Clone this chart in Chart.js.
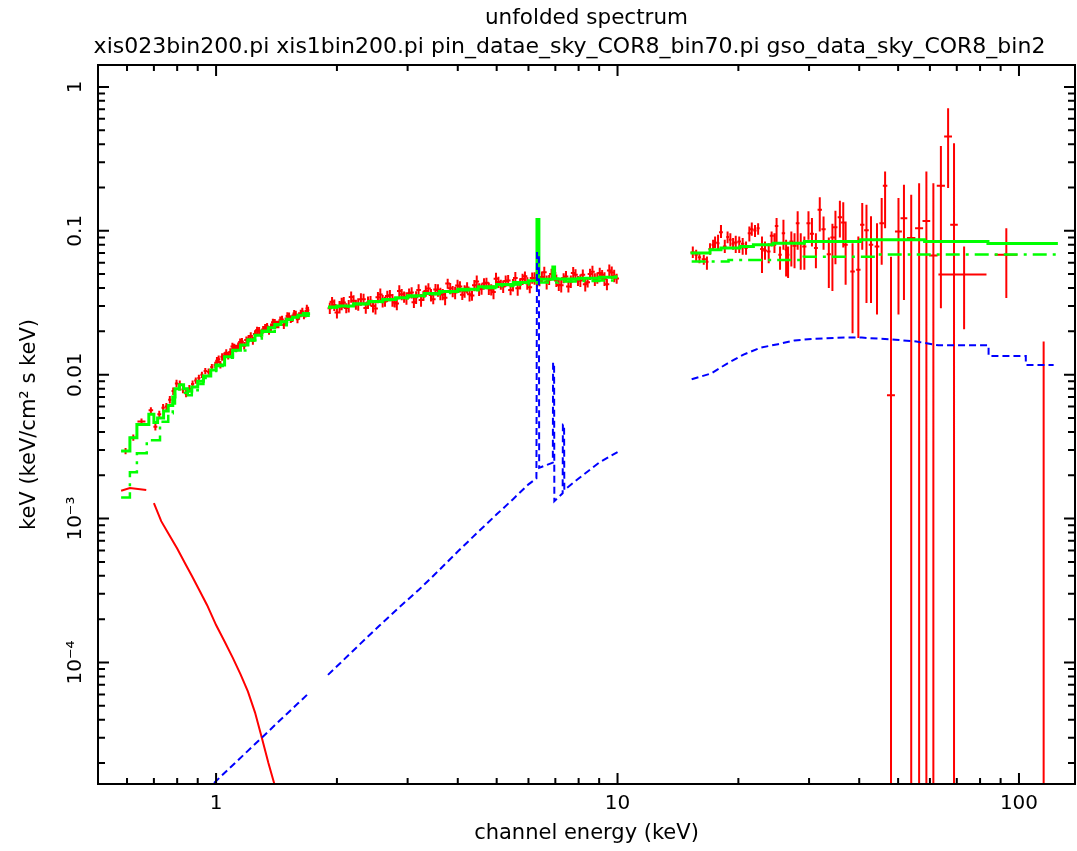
<!DOCTYPE html>
<html>
<head>
<meta charset="utf-8">
<title>unfolded spectrum</title>
<script src="https://cdn.jsdelivr.net/npm/chart.js@4.4.1/dist/chart.umd.min.js"></script>
<style>
  body { margin: 0; background: #fff; }
</style>
</head>
<body>
<canvas id="spec" width="1077" height="851"></canvas>
<script>
const plotTitle = 'unfolded spectrum';
const plotSubtitle = 'xis023bin200.pi xis1bin200.pi pin_datae_sky_COR8_bin70.pi gso_data_sky_COR8_bin2';

// axis ticks
const xMajor = [1, 10, 100];
const xMajorLabels = ['1', '10', '100'];
const xMinor = [0.6, 0.7, 0.8, 0.9, 2, 3, 4, 5, 6, 7, 8, 9, 20, 30, 40, 50, 60, 70, 80, 90];
const yMajor = [1e-4, 1e-3, 0.01, 0.1, 1];
const yMajorLabels = ['10⁻⁴', '10⁻³', '0.01', '0.1', '1'];
const yMinor = [2e-5, 3e-5, 4e-5, 5e-5, 6e-5, 7e-5, 8e-5, 9e-5,
  2e-4, 3e-4, 4e-4, 5e-4, 6e-4, 7e-4, 8e-4, 9e-4,
  2e-3, 3e-3, 4e-3, 5e-3, 6e-3, 7e-3, 8e-3, 9e-3,
  0.02, 0.03, 0.04, 0.05, 0.06, 0.07, 0.08, 0.09,
  0.2, 0.3, 0.4, 0.5, 0.6, 0.7, 0.8, 0.9];

// XIS0+2+3 data: bin centre (keV), flux, relative error
const xisE = [
  0.595, 0.622, 0.652, 0.688, 0.706, 0.722, 0.738, 0.752, 0.767, 0.782,
  0.797, 0.812, 0.827, 0.842, 0.858, 0.874, 0.890, 0.906, 0.922, 0.940,
  0.958, 0.976, 0.995, 1.015, 1.035, 1.060, 1.085, 1.110, 1.135, 1.160,
  1.190, 1.220, 1.250, 1.280, 1.310, 1.340, 1.370, 1.400, 1.430, 1.460,
  1.490, 1.520, 1.550, 1.580, 1.610, 1.640, 1.670, 1.695,
  1.92, 1.97, 2.03, 2.08, 2.14, 2.20, 2.26, 2.33, 2.39, 2.46,
  2.53, 2.60, 2.67, 2.75, 2.82, 2.90, 2.98, 3.07, 3.15, 3.24,
  3.33, 3.43, 3.52, 3.62, 3.72, 3.83, 3.94, 4.05, 4.16, 4.28,
  4.40, 4.52, 4.65, 4.78, 4.91, 5.05, 5.19, 5.34, 5.49, 5.64,
  5.80, 5.96, 6.13, 6.30, 6.48, 6.66, 6.85, 7.04, 7.24, 7.44,
  7.65, 7.86, 8.08, 8.31, 8.54, 8.78, 9.03, 9.28, 9.54, 9.81];
const xisF = [
  2.95e-3, 3.65e-3, 4.72e-3, 5.65e-3, 4.35e-3, 5.3e-3, 5.9e-3, 6.0e-3, 6.7e-3, 7.7e-3,
  8.7e-3, 8.6e-3, 7.9e-3, 7.4e-3, 8.0e-3, 8.6e-3, 9.1e-3, 9.5e-3, 1.00e-2, 1.06e-2,
  1.05e-2, 1.13e-2, 1.17e-2, 1.28e-2, 1.33e-2, 1.42e-2, 1.44e-2, 1.55e-2, 1.58e-2, 1.70e-2,
  1.74e-2, 1.86e-2, 1.92e-2, 2.02e-2, 2.06e-2, 2.16e-2, 2.14e-2, 2.30e-2, 2.24e-2, 2.42e-2,
  2.36e-2, 2.55e-2, 2.47e-2, 2.62e-2, 2.56e-2, 2.75e-2, 2.66e-2, 2.80e-2,
  0.0290, 0.0305, 0.0296, 0.0318, 0.0300, 0.0327, 0.0309, 0.0335, 0.0318, 0.0300,
  0.0345, 0.0326, 0.0352, 0.0330, 0.0312, 0.0362, 0.0340, 0.0372, 0.0345, 0.0330,
  0.0382, 0.0358, 0.0391, 0.0365, 0.0342, 0.0398, 0.0372, 0.0410, 0.0380, 0.0362,
  0.0418, 0.0392, 0.0430, 0.0398, 0.0375, 0.0440, 0.0410, 0.0452, 0.0420, 0.0398,
  0.0462, 0.0432, 0.0470, 0.0450, 0.0478, 0.0440, 0.0500, 0.0452, 0.0418, 0.0482,
  0.0445, 0.0495, 0.0452, 0.0425, 0.0500, 0.0460, 0.0508, 0.0465, 0.0530, 0.0488];
const xisErr = [
  0.05, 0.05, 0.05, 0.05, 0.06, 0.06, 0.06, 0.06, 0.06, 0.06,
  0.06, 0.06, 0.06, 0.06, 0.06, 0.06, 0.05, 0.05, 0.05, 0.05,
  0.05, 0.05, 0.05, 0.06, 0.06, 0.06, 0.06, 0.06, 0.06, 0.06,
  0.06, 0.06, 0.06, 0.06, 0.06, 0.06, 0.06, 0.06, 0.06, 0.06,
  0.06, 0.06, 0.06, 0.06, 0.06, 0.06, 0.06, 0.06,
  0.09, 0.09, 0.10, 0.09, 0.10, 0.09, 0.10, 0.09, 0.10, 0.10,
  0.09, 0.10, 0.09, 0.10, 0.10, 0.09, 0.10, 0.09, 0.10, 0.10,
  0.09, 0.10, 0.09, 0.10, 0.11, 0.09, 0.10, 0.09, 0.10, 0.11,
  0.09, 0.10, 0.09, 0.10, 0.11, 0.09, 0.10, 0.09, 0.10, 0.11,
  0.09, 0.10, 0.09, 0.10, 0.09, 0.11, 0.09, 0.10, 0.11, 0.09,
  0.10, 0.09, 0.10, 0.11, 0.09, 0.10, 0.09, 0.11, 0.10, 0.10];

// XIS1 data
const xis1E = [
  1.005, 1.025, 1.048, 1.072, 1.098, 1.122, 1.148, 1.175, 1.205, 1.235,
  1.265, 1.295, 1.325, 1.355, 1.385, 1.415, 1.445, 1.475, 1.505, 1.535,
  1.565, 1.595, 1.625, 1.655, 1.683,
  1.945, 2.00, 2.055, 2.11, 2.17, 2.23, 2.295, 2.36, 2.425, 2.495,
  2.565, 2.635, 2.71, 2.785, 2.86, 2.94, 3.025, 3.11, 3.195, 3.285,
  3.38, 3.475, 3.57, 3.67, 3.775, 3.885, 3.995, 4.105, 4.22, 4.34,
  4.46, 4.585, 4.715, 4.845, 4.98, 5.12, 5.265, 5.415, 5.565, 5.72,
  5.88, 6.045, 6.215, 6.39, 6.57, 6.755, 6.945, 7.14, 7.34, 7.545,
  7.755, 7.97, 8.195, 8.425, 8.66, 8.905, 9.155, 9.41, 9.675, 9.95];
const xis1F = [
  1.25e-2, 1.175e-2, 1.346e-2, 1.358e-2, 1.573e-2, 1.525e-2, 1.685e-2, 1.589e-2, 1.778e-2, 1.721e-2,
  2.035e-2, 1.94e-2, 2.122e-2, 2.014e-2, 2.311e-2, 2.237e-2, 2.39e-2, 2.213e-2, 2.562e-2, 2.43e-2,
  2.657e-2, 2.425e-2, 2.672e-2, 2.58e-2, 2.889e-2,
  0.0321, 0.0270, 0.0312, 0.0291, 0.0347, 0.0307, 0.0335, 0.0291, 0.0326, 0.0288,
  0.0361, 0.0322, 0.0356, 0.0318, 0.0381, 0.0347, 0.0368, 0.0319, 0.0387, 0.0354,
  0.0397, 0.0335, 0.0387, 0.0361, 0.0430, 0.0380, 0.0416, 0.0359, 0.0403, 0.0355,
  0.0444, 0.0395, 0.0436, 0.0390, 0.0465, 0.0423, 0.0448, 0.0387, 0.0470, 0.0430,
  0.0483, 0.0405, 0.0469, 0.0447, 0.0516, 0.0456, 0.0509, 0.0420, 0.0469, 0.0410,
  0.0509, 0.0449, 0.0494, 0.0439, 0.0520, 0.0470, 0.0495, 0.0425, 0.0513, 0.0466];
const xis1Err = [
  0.06, 0.06, 0.06, 0.06, 0.06, 0.06, 0.06, 0.06, 0.06, 0.06,
  0.06, 0.06, 0.06, 0.06, 0.06, 0.06, 0.06, 0.06, 0.06, 0.06,
  0.06, 0.06, 0.06, 0.06, 0.06,
  0.08, 0.09, 0.10, 0.08, 0.09, 0.08, 0.10, 0.09, 0.08, 0.09,
  0.10, 0.08, 0.09, 0.08, 0.10, 0.09, 0.08, 0.09, 0.10, 0.08,
  0.09, 0.08, 0.10, 0.09, 0.08, 0.09, 0.10, 0.08, 0.09, 0.08,
  0.10, 0.09, 0.08, 0.09, 0.10, 0.08, 0.09, 0.08, 0.10, 0.09,
  0.08, 0.09, 0.10, 0.08, 0.09, 0.08, 0.10, 0.09, 0.08, 0.09,
  0.10, 0.08, 0.09, 0.08, 0.10, 0.09, 0.08, 0.09, 0.10, 0.08];

// HXD (PIN + GSO) data: centre, half width, flux, lower, upper
const hxdE = [15.4, 15.7, 16.0, 16.4, 16.7, 17.0, 17.3, 17.5, 17.8, 18.1,
  18.5, 18.8, 19.1, 19.4, 19.7, 20.1, 20.5, 20.9, 21.3, 21.6,
  22.0, 22.4, 22.9, 23.3, 23.8, 24.2, 24.6, 24.9, 25.4, 25.9,
  26.3, 26.6, 27.1, 27.6, 28.1, 28.6, 29.2, 29.9, 30.5, 31.2,
  31.9, 32.6, 33.6, 34.3, 34.9, 35.8, 36.5, 37.0, 38.5, 39.8,
  40.7, 41.7, 42.8, 44.3, 45.5, 46.4, 48.0, 50.1, 51.7, 53.9,
  56.4, 58.8, 61.2, 63.9, 66.6, 68.9, 73.0, 93.0, 115.2];
const hxdDE = [0.2, 0.15, 0.15, 0.2, 0.15, 0.15, 0.15, 0.15, 0.15, 0.2,
  0.2, 0.15, 0.15, 0.15, 0.2, 0.2, 0.2, 0.2, 0.2, 0.2,
  0.2, 0.2, 0.25, 0.25, 0.25, 0.25, 0.25, 0.25, 0.25, 0.25,
  0.2, 0.2, 0.3, 0.3, 0.3, 0.3, 0.35, 0.35, 0.35, 0.35,
  0.4, 0.4, 0.4, 0.4, 0.4, 0.45, 0.45, 0.45, 0.5, 0.5,
  0.5, 0.55, 0.55, 0.6, 0.6, 0.6, 1.1, 1.0, 1.0, 1.3,
  1.3, 1.3, 1.5, 1.5, 1.5, 1.5, 10.0, 6.0, 8.0];
const hxdF = [0.0707, 0.0681, 0.0656, 0.0635, 0.0609, 0.0746, 0.0800, 0.0828, 0.0821, 0.0978,
  0.0778, 0.0904, 0.0866, 0.0812, 0.0828, 0.0844, 0.0812, 0.0758, 0.0962, 0.1025,
  0.1004, 0.1042, 0.0746, 0.0730, 0.0718, 0.0924, 0.0800, 0.1082, 0.0681, 0.0962,
  0.0738, 0.0681, 0.0844, 0.0786, 0.1130, 0.0821, 0.0778, 0.1130, 0.0952, 0.0758,
  0.1400, 0.1025, 0.0688, 0.0898, 0.1060, 0.1240, 0.1140, 0.0800, 0.0522, 0.0536,
  0.1100, 0.1010, 0.0800, 0.0778, 0.1130, 0.2060, 0.0072, 0.0988, 0.1220, 0.0890,
  0.1040, 0.1170, 0.0674, 0.2060, 0.4520, 0.1100, 0.0496, 0.0681, 1e-6];
const hxdLo = [0.0646, 0.0612, 0.0596, 0.0580, 0.0536, 0.0681, 0.0738, 0.0758, 0.0738, 0.0890,
  0.0700, 0.0821, 0.0778, 0.0738, 0.0700, 0.0700, 0.0681, 0.0681, 0.0844, 0.0924,
  0.0904, 0.0938, 0.0508, 0.0628, 0.0596, 0.0778, 0.0700, 0.0821, 0.0536, 0.0738,
  0.0481, 0.0469, 0.0565, 0.0550, 0.0738, 0.0536, 0.0536, 0.0866, 0.0778, 0.0550,
  0.0988, 0.0738, 0.0401, 0.0381, 0.0586, 0.0898, 0.0765, 0.0422, 0.0194, 0.0180,
  0.0738, 0.0315, 0.0315, 0.0262, 0.0580, 0.1040, 1e-8, 0.0262, 0.0331, 1e-8,
  1e-8, 1e-8, 1e-8, 0.0290, 0.1980, 1e-8, 0.0207, 0.0341, 1e-8];
const hxdHi = [0.0778, 0.0738, 0.0700, 0.0681, 0.0663, 0.0821, 0.0866, 0.0914, 0.0938, 0.1099,
  0.0866, 0.0988, 0.0962, 0.0890, 0.0924, 0.0914, 0.0890, 0.0844, 0.1071, 0.1142,
  0.1099, 0.1130, 0.0914, 0.0844, 0.0821, 0.0988, 0.0962, 0.1225, 0.0778, 0.1192,
  0.0866, 0.0778, 0.0988, 0.0962, 0.1365, 0.0962, 0.0914, 0.1365, 0.1225, 0.0962,
  0.1710, 0.1259, 0.0898, 0.1120, 0.1380, 0.1620, 0.1580, 0.1160, 0.0821, 0.0914,
  0.1560, 0.1520, 0.1260, 0.1130, 0.1690, 0.2580, 0.0660, 0.1690, 0.2090, 0.1780,
  0.2140, 0.2580, 0.2140, 0.3890, 0.7110, 0.4060, 0.0778, 0.1040, 0.0170];

// total model, bin left edges (null = gap between instruments)
const totalE = [0.58, 0.61, 0.635, 0.68, 0.70, 0.715, 0.74, 0.76, 0.78, 0.79,
  0.81, 0.83, 0.85, 0.87, 0.90, 0.93, 0.97, 1.00, 1.05, 1.10,
  1.15, 1.20, 1.25, 1.30, 1.35, 1.40, 1.45, 1.50, 1.55, 1.60,
  1.65, 1.70, 1.80,
  1.90, 2.00, 2.20, 2.40, 2.60, 2.80, 3.00, 3.30, 3.60, 4.00,
  4.50, 5.00, 5.50, 6.00, 6.30, 6.37, 6.90, 6.97, 7.10, 8.00,
  9.00, 9.90, 10.0, 12.0,
  15.2, 17.0, 18.1, 20.2, 21.8, 24.4, 29.2, 40.3, 58.2, 83.7, 125];
const totalF = [2.95e-3, 3.65e-3, 4.5e-3, 5.3e-3, 4.65e-3, 5.0e-3, 5.6e-3, 6.1e-3, 7.0e-3, 8.0e-3,
  8.5e-3, 8.0e-3, 7.7e-3, 8.2e-3, 9.0e-3, 9.8e-3, 1.08e-2, 1.17e-2, 1.33e-2, 1.48e-2,
  1.61e-2, 1.75e-2, 1.88e-2, 2.01e-2, 2.12e-2, 2.23e-2, 2.33e-2, 2.43e-2, 2.51e-2, 2.59e-2,
  2.66e-2, 2.72e-2, null,
  2.95e-2, 3.00e-2, 3.11e-2, 3.22e-2, 3.33e-2, 3.43e-2, 3.53e-2, 3.66e-2, 3.78e-2, 3.92e-2,
  4.08e-2, 4.24e-2, 4.38e-2, 4.50e-2, 0.120, 4.60e-2, 5.60e-2, 4.65e-2, 4.62e-2, 4.68e-2,
  4.75e-2, 4.80e-2, 4.80e-2, null,
  0.0701, 0.0738, 0.0758, 0.0777, 0.0799, 0.0820, 0.0841, 0.0865, 0.0841, 0.0815, 0.0815];

// power-law continuum component
const contE = [0.58, 0.61, 0.635, 0.672, 0.725, 0.76, 0.78, 0.79, 0.81, 0.83,
  0.85, 0.87, 0.90, 0.93, 0.97, 1.00, 1.05, 1.10, 1.20, 1.30,
  1.40, 1.50, 1.60, 1.70, 1.80,
  1.90, 2.00, 2.20, 2.40, 2.60, 2.80, 3.00, 3.30, 3.60, 4.00,
  4.50, 5.00, 5.50, 6.00, 6.30, 7.10, 8.00, 9.00, 9.90, 10.0, 12.0,
  15.3, 18.9, 29.1, 44.4, 125];
const contF = [1.40e-3, 2.10e-3, 2.85e-3, 3.50e-3, 4.70e-3, 5.40e-3, 6.30e-3, 7.40e-3, 7.90e-3, 7.50e-3,
  7.20e-3, 7.80e-3, 8.60e-3, 9.50e-3, 1.06e-2, 1.15e-2, 1.31e-2, 1.47e-2, 1.73e-2, 1.99e-2,
  2.21e-2, 2.41e-2, 2.57e-2, 2.71e-2, null,
  2.93e-2, 2.98e-2, 3.09e-2, 3.20e-2, 3.31e-2, 3.40e-2, 3.50e-2, 3.62e-2, 3.73e-2, 3.86e-2,
  4.00e-2, 4.13e-2, 4.24e-2, 4.33e-2, 4.37e-2, 4.45e-2, 4.48e-2, 4.52e-2, 4.55e-2, 4.55e-2, null,
  0.0612, 0.0627, 0.0661, 0.0684, 0.0684];

// soft component
const softE = [0.58, 0.61, 0.67, 0.68, 0.70, 0.73, 0.76, 0.80, 0.84, 0.87,
  0.91, 0.95, 1.00, 1.05, 1.10, 1.15, 1.20, 1.25, 1.30, 1.35,
  1.40, 1.45, 1.50];
const softF = [1.56e-3, 1.63e-3, 1.58e-3, null, 1.28e-3, 9.6e-4, 7.9e-4, 6.2e-4, 4.8e-4, 4.0e-4,
  3.15e-4, 2.5e-4, 1.82e-4, 1.40e-4, 1.08e-4, 8.3e-5, 6.3e-5, 4.5e-5, 3.0e-5, 2.0e-5,
  1.4e-5, 1.0e-5, 7e-6];

// reflection + iron lines component
const reflE = [0.90, 0.95, 1.00, 1.10, 1.20, 1.30, 1.40, 1.50, 1.60, 1.70, 1.80,
  1.90, 2.00, 2.25, 2.55, 2.85, 3.20, 3.60, 4.00, 4.50, 5.00,
  5.50, 6.00, 6.28, 6.30, 6.37, 6.38, 6.90, 6.91, 6.95, 6.96,
  7.30, 7.31, 7.36, 7.37, 8.00, 9.00, 10.0, 12.0,
  15.3, 17.1, 18.8, 20.6, 22.7, 25.1, 27.6, 31.0, 36.8, 40.6,
  49.3, 55.5, 59.8, 63.0, 84.0, 84.0, 104.0, 104.0, 122.0];
const reflF = [1.15e-5, 1.31e-5, 1.50e-5, 1.93e-5, 2.43e-5, 3.00e-5, 3.66e-5, 4.39e-5, 5.20e-5, 6.10e-5, null,
  8.2e-5, 9.4e-5, 1.29e-4, 1.80e-4, 2.40e-4, 3.20e-4, 4.40e-4, 5.90e-4, 8.10e-4, 1.07e-3,
  1.37e-3, 1.73e-3, 1.90e-3, 0.070, 0.070, 2.25e-3, 2.45e-3, 0.0121, 0.0121, 1.32e-3,
  1.50e-3, 4.5e-3, 4.5e-3, 1.58e-3, 1.90e-3, 2.45e-3, 2.90e-3, null,
  9.3e-3, 0.0102, 0.0120, 0.0138, 0.0154, 0.0163, 0.0173, 0.0178, 0.0181, 0.0181,
  0.0175, 0.0170, 0.0164, 0.0160, 0.0160, 0.0135, 0.0135, 0.0117, 0.0117];

function halfWidths(E) {
  return E.map((e, i) => {
    const before = i > 0 ? e - E[i - 1] : E[i + 1] - e;
    const after = i < E.length - 1 ? E[i + 1] - e : before;
    return Math.min(before, after) / 2;
  });
}

function crosses(E, dE, F, lo, hi) {
  const pts = [];
  E.forEach((e, i) => {
    pts.push({x: e - dE[i], y: F[i]}, {x: e + dE[i], y: F[i]}, {x: e, y: null},
             {x: e, y: lo[i]}, {x: e, y: hi[i]}, {x: e, y: null});
  });
  return pts;
}

function relCrosses(E, F, err) {
  return crosses(E, halfWidths(E), F,
    F.map((f, i) => f * (1 - err[i])), F.map((f, i) => f * (1 + err[i])));
}

function curve(E, F) {
  return E.map((e, i) => ({x: e, y: F[i]}));
}

const dataPts = relCrosses(xisE, xisF, xisErr)
  .concat(relCrosses(xis1E, xis1F, xis1Err))
  .concat(crosses(hxdE, hxdDE, hxdF, hxdLo, hxdHi));

const font = 'DejaVu Sans';

const frameTicks = {
  id: 'frameTicks',
  afterDatasetsDraw(chart) {
    const {ctx, chartArea: a, scales: {x, y}} = chart;
    ctx.save();
    ctx.strokeStyle = '#000';
    ctx.lineWidth = 2;
    ctx.strokeRect(a.left, a.top, a.right - a.left, a.bottom - a.top);
    ctx.beginPath();
    x.ticks.forEach(t => {
      const px = x.getPixelForValue(t.value);
      const len = xMajor.includes(t.value) ? 11 : 6;
      ctx.moveTo(px, a.bottom); ctx.lineTo(px, a.bottom - len);
      ctx.moveTo(px, a.top); ctx.lineTo(px, a.top + len);
    });
    y.ticks.forEach(t => {
      const py = y.getPixelForValue(t.value);
      const len = yMajor.includes(t.value) ? 11 : 7;
      ctx.moveTo(a.left, py); ctx.lineTo(a.left + len, py);
      ctx.moveTo(a.right, py); ctx.lineTo(a.right - len, py);
    });
    ctx.stroke();
    ctx.restore();
  }
};

const headings = {
  id: 'headings',
  afterDraw(chart) {
    const {ctx, chartArea: a} = chart;
    const cx = (a.left + a.right) / 2;
    ctx.save();
    ctx.fillStyle = '#000';
    ctx.textAlign = 'center';
    ctx.textBaseline = 'middle';
    ctx.font = '21.5px "' + font + '"';
    ctx.fillText(plotTitle, cx, 18);
    ctx.font = '22px "' + font + '"';
    ctx.fillText(plotSubtitle, cx - 17, 47);
    ctx.restore();
  }
};

new Chart(document.getElementById('spec'), {
  type: 'scatter',
  data: {
    datasets: [
      { label: 'data', data: dataPts, showLine: true, borderColor: '#ff0000',
        borderWidth: 2, pointRadius: 0, order: 5 },
      { label: 'continuum', data: curve(contE, contF), showLine: true, stepped: true,
        borderColor: '#00ff00', borderWidth: 2.5, borderDash: [14, 6, 3, 6], pointRadius: 0, order: 4 },
      { label: 'model', data: curve(totalE, totalF), showLine: true, stepped: true,
        borderColor: '#00ff00', borderWidth: 3, pointRadius: 0, order: 3 },
      { label: 'soft', data: curve(softE, softF), showLine: true,
        borderColor: '#ff0000', borderWidth: 2, pointRadius: 0, order: 2 },
      { label: 'reflection', data: curve(reflE, reflF), showLine: true,
        borderColor: '#0000ff', borderWidth: 2, borderDash: [7, 4], pointRadius: 0, order: 1 }
    ]
  },
  options: {
    responsive: false,
    devicePixelRatio: 1,
    animation: false,
    layout: { padding: { top: 65, right: 2, left: 0, bottom: 0 } },
    plugins: { legend: { display: false }, tooltip: { enabled: false } },
    scales: {
      x: {
        type: 'logarithmic', min: 0.508, max: 137.9,
        afterBuildTicks: s => { s.ticks = xMinor.concat(xMajor).sort((a, b) => a - b).map(v => ({value: v})); },
        afterFit: s => { s.height = 67; },
        grid: { display: false, drawTicks: false },
        border: { display: false },
        ticks: { autoSkip: false, maxRotation: 0, padding: 8, color: '#000',
          font: { family: font, size: 20 },
          callback: v => { const i = xMajor.indexOf(v); return i < 0 ? '' : xMajorLabels[i]; } },
        title: { display: true, text: 'channel energy (keV)', color: '#000',
          font: { family: font, size: 21 }, padding: { top: 0, bottom: 5 } }
      },
      y: {
        type: 'logarithmic', min: 1.43e-5, max: 1.42,
        afterBuildTicks: s => { s.ticks = yMinor.concat(yMajor).sort((a, b) => a - b).map(v => ({value: v})); },
        afterFit: s => { s.width = 98; },
        grid: { display: false, drawTicks: false },
        border: { display: false },
        ticks: { autoSkip: false, minRotation: 90, maxRotation: 90, crossAlign: 'center', padding: 0,
          color: '#000', font: { family: font, size: 20 },
          callback: v => { const i = yMajor.indexOf(v); return i < 0 ? '' : yMajorLabels[i]; } },
        title: { display: true, text: 'keV (keV/cm² s keV)', color: '#000',
          font: { family: font, size: 21 }, padding: { top: 17, bottom: 0 } }
      }
    }
  },
  plugins: [frameTicks, headings]
});
</script>
</body>
</html>
